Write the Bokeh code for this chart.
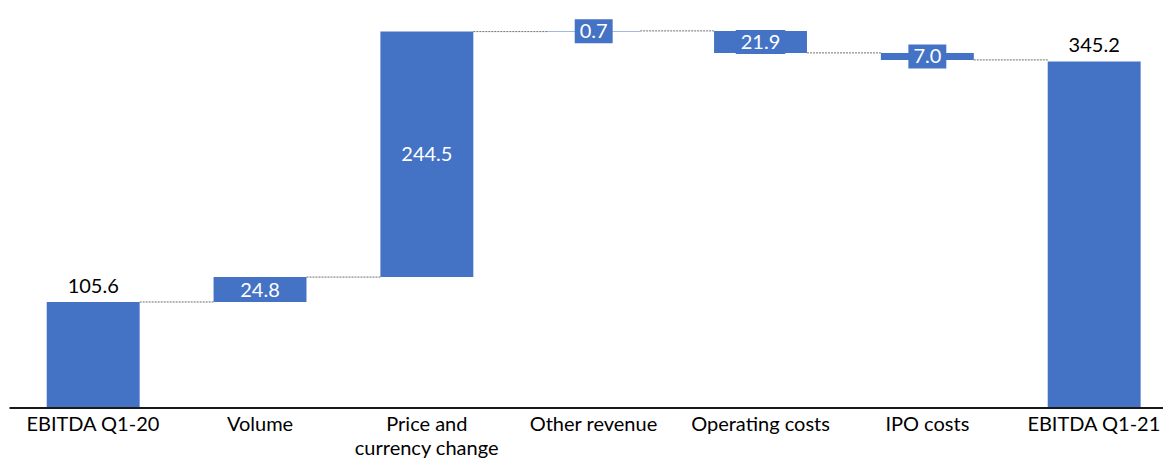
from bokeh.plotting import figure
from bokeh.models import ColumnDataSource, Range1d
from bokeh.core.properties import value
from bokeh.embed import file_html
from bokeh.resources import INLINE

categories = ["EBITDA Q1-20", "Volume", "Price and\ncurrency change", "Other revenue",
              "Operating costs", "IPO costs", "EBITDA Q1-21"]
values = [105.6, 24.8, 244.5, 0.7, -21.9, -7.0, 345.2]
is_total = [True, False, False, False, False, False, True]

BLUE = "#4472C4"
FONT = "Lato"
BAR_W = 0.557
PX_X = 166.83          # pixels per category
PX_Y = 1.004           # pixels per unit
ZERO_PX = 407.5        # baseline distance from the top
W, H = 1163, 462

xs = list(range(len(categories)))
bottoms, tops, levels = [], [], []
run = 0.0
for v, t in zip(values, is_total):
    if t:
        b, tp = 0.0, v
        run = v
    else:
        start = run
        run = run + v
        b, tp = min(start, run), max(start, run)
    bottoms.append(b)
    tops.append(tp)
    levels.append(run)

x0 = -92.7 / PX_X
x1 = x0 + W / PX_X
y1 = ZERO_PX / PX_Y
y0 = -(H - ZERO_PX) / PX_Y

p = figure(width=W, height=H, output_backend="svg", toolbar_location=None,
           x_range=Range1d(x0, x1), y_range=Range1d(y0, y1),
           min_border=0, min_border_left=0, min_border_right=0,
           min_border_top=0, min_border_bottom=0)
p.outline_line_color = None
p.xgrid.visible = False
p.ygrid.visible = False
p.xaxis.visible = False
p.yaxis.visible = False
p.background_fill_color = "white"
p.border_fill_color = "white"

bars = ColumnDataSource(dict(x=xs, bottom=bottoms, top=tops))
p.vbar(x="x", bottom="bottom", top="top", width=BAR_W, source=bars,
       fill_color=BLUE, line_color=None)

# category axis line
p.segment(x0=[x0 + 9 / PX_X], y0=[0], x1=[x1], y1=[0], line_color="#1a1a1a",
          line_width=2)

# category labels
p.text(x=xs, y=[0] * len(xs), text=categories, y_offset=3,
       text_align="center", text_baseline="top", text_color="black",
       text_font=value(FONT), text_font_size="20px", text_line_height=1.0)

# connectors
cx0 = [i + BAR_W / 2 for i in xs[:-1]]
cx1 = [i + 1 - BAR_W / 2 for i in xs[:-1]]
cy = levels[:-1]
p.segment(x0=cx0, y0=cy, x1=cx1, y1=cy, line_color="#6f6f6f", line_width=1,
          line_dash="2 1")

# value labels
lab_all = ["%.1f" % abs(v) for v in values]
out_idx = [i for i, t in enumerate(is_total) if t]
in_idx = [i for i, t in enumerate(is_total) if not t]

p.text(x=[xs[i] for i in out_idx], y=[tops[i] for i in out_idx],
       text=[lab_all[i] for i in out_idx], y_offset=-9,
       text_align="center", text_baseline="bottom", text_color="black",
       text_font=value(FONT), text_font_size="20px")

p.text(x=[xs[i] for i in in_idx], y=[(bottoms[i] + tops[i]) / 2 for i in in_idx],
       text=[lab_all[i] for i in in_idx],
       text_align="center", text_baseline="middle", text_color="white",
       text_font=value(FONT), text_font_size="20px",
       background_fill_color=BLUE, padding=5)

open("out.html", "w").write(file_html(p, INLINE))
